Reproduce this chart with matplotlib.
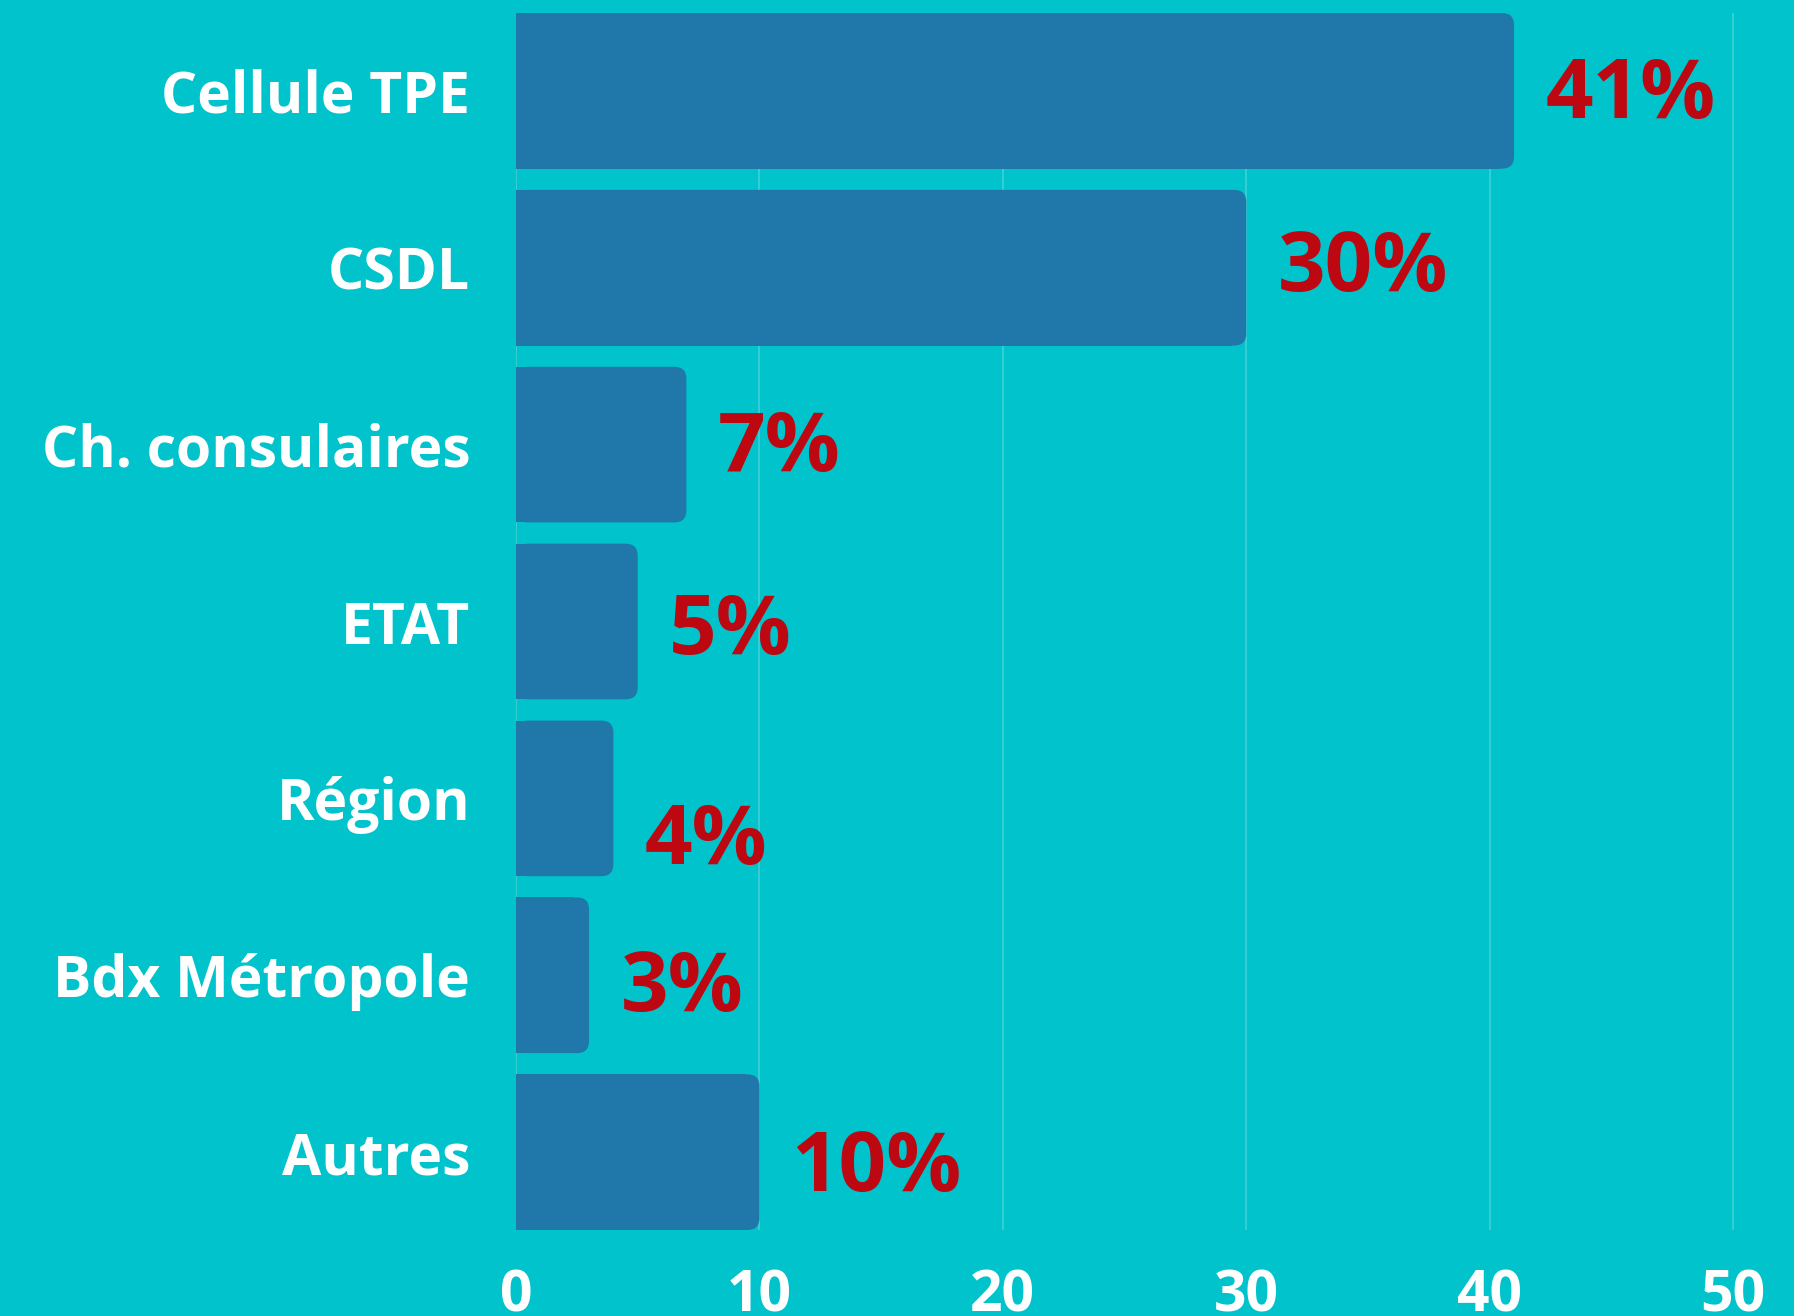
import matplotlib
matplotlib.use("Agg")
import matplotlib.pyplot as plt
from matplotlib.patches import FancyBboxPatch, Rectangle

categories = ["Cellule TPE", "CSDL", "Ch. consulaires", "ETAT", "Région", "Bdx Métropole", "Autres"]
values = [41, 30, 7, 5, 4, 3, 10]
pct_labels = ["41%", "30%", "7%", "5%", "4%", "3%", "10%"]
xticks = [0, 10, 20, 30, 40, 50]

BG = "#00C3CC"
BAR = "#1F77AA"
RED = "#BD0711"
GRID = "#3FD0D6"

plt.rcParams["font.family"] = ["Open Sans", "DejaVu Sans"]

fig = plt.figure(figsize=(17.94, 13.16), dpi=100, facecolor=BG)
ax = fig.add_axes([516 / 1794, 1 - 1230 / 1316, 1 - 516 / 1794, (1230 - 13) / 1316])
ax.set_facecolor(BG)
h = 0.88
n = len(categories)
ax.set_xlim(0, 52.5)
ax.set_ylim(n - 1 + h / 2, -h / 2)

for x in xticks:
    ax.axvline(x, color=GRID, lw=1.2, zorder=0)

px_x = 1278 / 52.5
px_y = 1217 / (n - 1 + h)
# small vertical nudges of the value labels, as in the original
nudge = [0.03, 0.01, 0.03, 0.06, 0.25, 0.08, 0.1]
for i, v in enumerate(values):
    y0 = i - h / 2
    ax.add_patch(FancyBboxPatch((0, y0), v, h,
                                boxstyle="round,pad=0,rounding_size=0.5",
                                mutation_aspect=px_x / px_y,
                                fc=BAR, ec="none", zorder=2))
    ax.add_patch(Rectangle((0, y0), v - 0.6, h, fc=BAR, ec="none", zorder=2))
    ax.text(v + 1.3, i + nudge[i], pct_labels[i], color=RED, fontsize=60,
            fontweight="bold", ha="left", va="center", zorder=3)

ax.set_yticks(range(n))
ax.set_yticklabels(categories)
ax.set_xticks(xticks)
ax.tick_params(axis="y", length=0, pad=33, labelsize=41, labelcolor="white")
ax.tick_params(axis="x", length=0, pad=27, labelsize=41, labelcolor="white")
for lab in ax.get_yticklabels() + ax.get_xticklabels():
    lab.set_fontweight("bold")
for s in ax.spines.values():
    s.set_visible(False)

fig.savefig("out.png", dpi=100, facecolor=BG)
